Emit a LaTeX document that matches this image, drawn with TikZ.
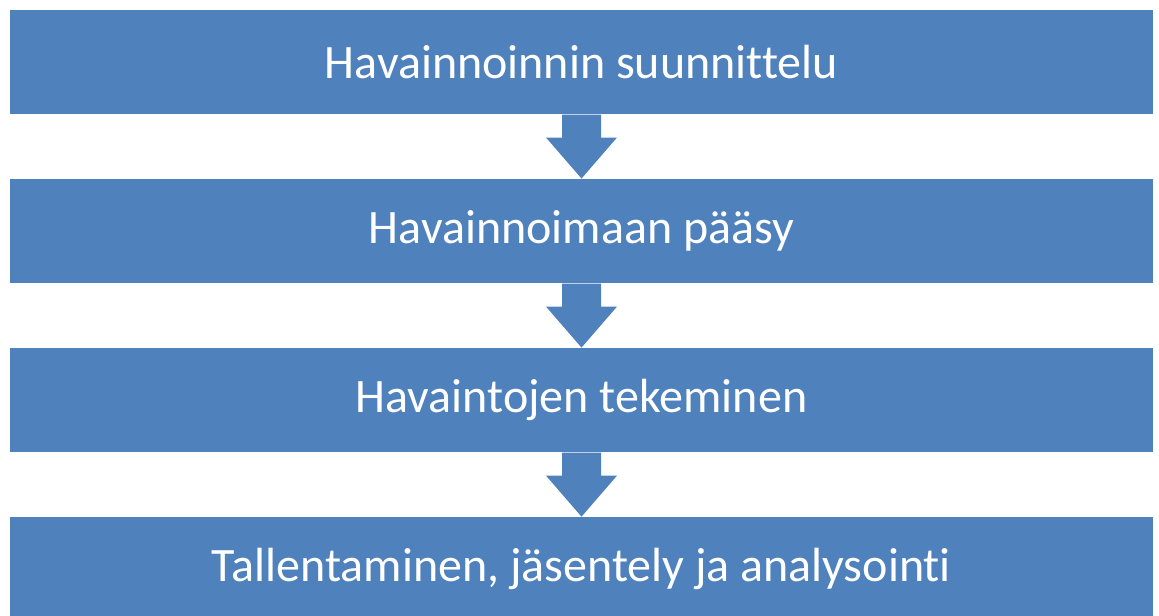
\documentclass[tikz,border=0pt]{standalone}
\usepackage{fontspec}
\setmainfont{Carlito}[Ligatures=CommonOff]
\usetikzlibrary{positioning,calc}
\definecolor{stepblue}{HTML}{4F81BD}
\tikzset{
  stagebox/.style={fill=stepblue, text=white, minimum width=857.25pt,
    minimum height=78.4pt, inner sep=0pt, font=\fontsize{36}{43}\selectfont},
  flowarrow/.style={fill=stepblue}
}
\begin{document}
\begin{tikzpicture}[x=0.75pt,y=-0.75pt]
\useasboundingbox (0,0) rectangle (1159,616);
%
\node[stagebox] (plan) at (581.5,62) {Havainnoinnin suunnittelu};
\node[stagebox, below=48pt of plan] (access) {Havainnoimaan pääsy};
\node[stagebox, below=48pt of access] (observe) {Havaintojen tekeminen};
\node[stagebox, below=48pt of observe] (analyse) {Tallentaminen, jäsentely ja analysointi};
%
\foreach \a/\b in {plan/access,access/observe,observe/analyse}
  \fill[flowarrow] ($(\a.south)+(-19.5,0)$) -- ($(\a.south)+(19.5,0)$)
    -- ($(\a.south)+(19.5,23)$) -- ($(\a.south)+(35.5,23)$)
    -- (\b.north) -- ($(\a.south)+(-35.5,23)$)
    -- ($(\a.south)+(-19.5,23)$) -- cycle;
%
\end{tikzpicture}
\end{document}
